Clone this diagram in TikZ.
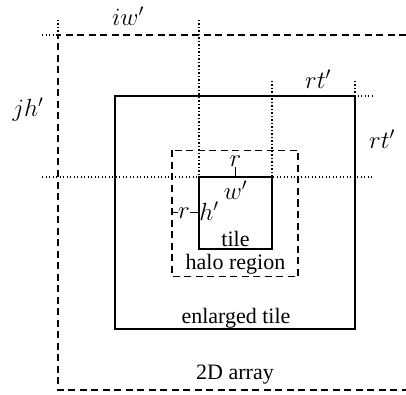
\documentclass[tikz,border=0pt]{standalone}
\usepackage{fontspec}
\setmainfont{Liberation Serif}
\begin{document}
\begin{tikzpicture}[x=1pt,y=-1pt,
  txt/.style={inner sep=0pt,font=\fontsize{22}{26}\selectfont},
  mth/.style={inner sep=0pt,font=\fontsize{26}{30}\selectfont},
  solidbox/.style={draw,line width=1.8pt},
  dashbox/.style={draw,line width=1.2pt,dash pattern=on 7pt off 4.5pt},
  dotline/.style={line width=1.2pt,dash pattern=on 1.2pt off 2.3pt},
  tick/.style={line width=0.8pt}]
\useasboundingbox (0,0) rectangle (406,395);
% 2D array
\coordinate (aTL) at (58,35);
\coordinate (aTR) at (406,35);
\coordinate (aBL) at (58,390);
\coordinate (aBR) at (406,390);
\draw[dashbox] (aTR) -- (aTL) -- (aBL) -- (aBR);
\coordinate (dA) at (42,35);
\coordinate (dB) at (58,20);
\draw[dotline] (dA) -- (aTL);
\draw[dotline] (dB) -- (aTL);
% enlarged tile
\coordinate (eTL) at (115,96);
\coordinate (eBR) at (355,329);
\draw[solidbox] (eTL) rectangle (eBR);
% halo region
\coordinate (hTL) at (172,150.5);
\coordinate (hBR) at (298,276.5);
\draw[dashbox] (hTL) rectangle (hBR);
% tile
\coordinate (tTL) at (199,177);
\coordinate (tTR) at (272,177);
\coordinate (tBR) at (272,249);
\draw[solidbox,line width=1.4pt] (tTL) rectangle (tBR);
% dotted guides
\coordinate (gL) at (42,177);
\coordinate (gR) at (372,177);
\draw[dotline] (gL) -- (gR);
\coordinate (v1) at (199,20);
\draw[dotline] (v1) -- (tTL);
\coordinate (v2) at (272,81);
\draw[dotline] (v2) -- (tTR);
\coordinate (eTR) at (355,96);
\coordinate (v3) at (355,81);
\coordinate (h3) at (372,96);
\draw[dotline] (v3) -- (eTR) -- (h3);
% labels
\node[mth] (iw) at (128,16.5) {$iw'$};
\node[mth] (jh) at (28,110) {$jh'$};
\node[mth] (rt1) at (318,79) {$rt'$};
\node[mth] (rt2) at (382,139) {$rt'$};
\node[mth] (rtop) at (235.5,161) {$r$};
\node[mth] (wl) at (235.5,190) {$w'$};
\node[mth] (rleft) at (184,213) {$r$};
\node[mth] (hl) at (209,211) {$h'$};
\node[txt] (tl) at (235.5,239) {tile};
\node[txt] (hr) at (235.5,264) {halo region};
\node[txt] (et) at (236,318) {enlarged tile};
\node[txt] (ar) at (235,375) {2D array};
% ticks
\coordinate (tk1) at (235.5,177);
\draw[tick] (rtop.south) -- (tk1);
\coordinate (tk2) at (172,212.5);
\coordinate (tk3) at (199,212.5);
\draw[tick] (tk2) -- (rleft.west |- tk2);
\draw[tick] (rleft.east |- tk3) -- (tk3);
\end{tikzpicture}
\end{document}
